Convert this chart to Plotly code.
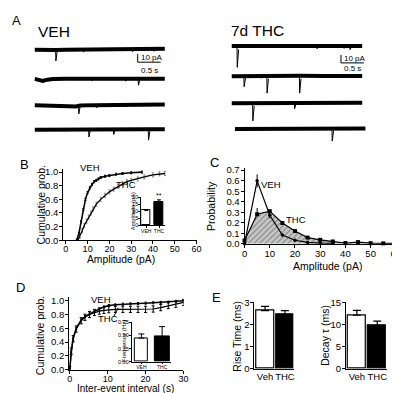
import plotly.graph_objects as go

W, H = 400, 393
FONT = 'Arial, "Liberation Sans", Helvetica, sans-serif'

# ---------------- data ----------------
# Panel A: sweeps -> baseline wobble (time s, pA) and events (time s, amplitude pA)
veh_base_t = [
    [0, 0.15, 0.3, 0.45, 0.7, 1.0, 1.3, 1.6, 1.9, 2.2, 2.5, 2.84],
    [0, 0.08, 0.18, 0.28, 0.4, 0.7, 1.0, 1.3, 1.6, 1.9, 2.2, 2.5, 2.84],
    [0, 0.3, 0.6, 0.75, 0.9, 1.0, 1.3, 1.6, 1.9, 2.2, 2.5, 2.84],
    [0, 0.4, 0.8, 1.2, 1.6, 2.0, 2.4, 2.84],
]
veh_base_v = [
    [0, -0.3, -0.8, -0.5, 0, 0.3, 0.5, 0.3, 0.6, 0.8, 1.0, 1.0],
    [0, -1.5, -2.5, -1.0, -0.3, 0, 0.3, 0.5, 0.2, 0, 0.2, -0.3, 0.2],
    [0, 0, -0.3, -1.2, -1.5, -0.3, 0.3, 0.5, 0.6, 0.8, 0.8, 1.0],
    [0, 0.3, 0, 0.4, 0.6, 0.4, 0.6, 0.4],
]
veh_evt_t = [[0.46, 1.06, 2.13, 2.6], [0.2, 1.25, 1.98, 2.26], [0.96, 1.35, 2.0], [0.68, 1.18, 1.72, 2.48]]
veh_evt_a = [[14, 3, 2.5, 2], [3, 2.5, 3, 8], [10.5, 3, 2], [2, 9, 6, 13]]

thc_base_t = [
    [0, 0.5, 1.0, 1.5, 2.0, 2.5, 2.85],
    [0, 0.5, 1.0, 1.5, 2.0, 2.5, 2.85],
    [0, 0.5, 1.0, 1.5, 2.0, 2.5, 2.85],
    [0, 0.5, 1.0, 1.5, 2.0, 2.5, 2.85],
]
thc_base_v = [
    [0.5, 0.5, 0.3, 0.5, 0.3, 0.5, 0.3],
    [0, 0.5, 0.3, 0.5, 0.3, 0.2, 0.3],
    [0, 0.2, 0, 0.5, 0.7, 0.5, 0.5],
    [0, 0.2, 0.3, 0.2, 0.5, 0.3, 0.5],
]
thc_evt_t = [[0.12, 1.86, 2.45, 2.58], [0.27, 0.64, 0.77, 1.48], [0.46, 0.9, 1.37], [0.5, 2.12]]
thc_evt_a = [[26, 3, 2.5, 4], [13, 2.5, 21, 21], [22, 2, 7], [2, 15]]

# Panel B: cumulative amplitude distributions
b_veh_x = [5, 6, 7, 8, 9, 10, 11, 12, 13, 14, 15, 16, 18, 20, 23, 26, 30, 35]
b_veh_y = [0, 0.1, 0.27, 0.45, 0.6, 0.7, 0.77, 0.82, 0.86, 0.88, 0.9, 0.92, 0.94, 0.95, 0.97, 0.98, 0.99, 1.0]
b_thc_x = [5.5, 6.5, 7.5, 8.5, 9.5, 10.5, 11.5, 12.5, 14, 16, 18, 20, 22, 24, 26, 28, 30, 33, 36, 40, 43, 45.5]
b_thc_y = [0, 0.06, 0.14, 0.22, 0.28, 0.34, 0.4, 0.46, 0.53, 0.6, 0.66, 0.71, 0.75, 0.79, 0.83, 0.86, 0.88, 0.9,
           0.93, 0.96, 0.975, 0.98]
groups = ["VEH", "THC"]
b_inset_mean = [10.5, 16.3]
b_inset_err = [0.5, 1.7]

# Panel C: amplitude histograms
c_x_veh = [0, 5, 10, 15, 20, 25, 30, 35]
c_veh = [0.0, 0.598, 0.27, 0.083, 0.033, 0.012, 0.006, 0.003]
c_veh_err = [0, 0.062, 0.03, 0.01, 0.005, 0, 0, 0]
c_x_thc = [0, 5, 10, 15, 20, 25, 30, 35, 40, 45, 50, 55, 60]
c_thc = [0.03, 0.28, 0.31, 0.197, 0.12, 0.058, 0.037, 0.021, 0.006, 0.015, 0.005, 0.003, 0.003]
c_thc_err = [0, 0.06, 0.01, 0.01, 0.01, 0.005, 0.004, 0, 0, 0, 0, 0, 0]

# Panel D: cumulative inter-event intervals
d_t = [0, 0.4, 0.9, 1.7, 3, 4, 5.2, 6.5, 7.8, 9, 10.3, 12, 14, 16, 18, 20, 22, 24, 26, 28, 30]
d_veh = [0, 0.27, 0.46, 0.6, 0.72, 0.77, 0.81, 0.85, 0.88, 0.91, 0.93, 0.94, 0.95, 0.955, 0.96, 0.965, 0.97,
         0.975, 0.98, 0.99, 1.0]
d_thc = [0, 0.27, 0.45, 0.59, 0.71, 0.76, 0.8, 0.83, 0.85, 0.86, 0.87, 0.875, 0.875, 0.875, 0.875, 0.875, 0.88,
         0.9, 0.93, 0.95, 0.975]
d_inset_mean = [0.45, 0.48]
d_inset_err = [0.08, 0.19]

# Panel E
e_groups = ["Veh", "THC"]
rise_mean = [2.63, 2.44]
rise_err = [0.19, 0.19]
decay_mean = [12.1, 9.75]
decay_err = [1.1, 1.0]

# ---------------- helpers ----------------
fig = go.Figure()
layout = {}
annotations = []
shapes = []


def axname(n):
    return ("xaxis", "yaxis") if n == 1 else (f"xaxis{n}", f"yaxis{n}")


def axref(n):
    return ("x", "y") if n == 1 else (f"x{n}", f"y{n}")


def dom_x(x0, x1):
    return [x0 / W, x1 / W]


def dom_y(ytop, ybot):
    return [1 - ybot / H, 1 - ytop / H]


def vis_axis(fs=9.5, tl=3, so=0, **kw):
    d = dict(showline=True, linecolor="black", linewidth=1, ticks="outside", ticklen=tl, tickwidth=1,
             tickcolor="black", showgrid=False, zeroline=False, tickangle=0, ticklabelstandoff=so,
             tickfont=dict(size=fs, color="black", family=FONT))
    d.update(kw)
    return d


def set_axes(n, xd, yd, xa, ya):
    xn, yn = axname(n)
    xr, yr = axref(n)
    layout[xn] = dict(xa, domain=xd, anchor=yr)
    layout[yn] = dict(ya, domain=yd, anchor=xr)


def text(px, py, s, size, angle=0, xanchor="center", yanchor="middle"):
    annotations.append(dict(x=px / W, y=1 - py / H, xref="paper", yref="paper", text=s, showarrow=False,
                            textangle=angle, xanchor=xanchor, yanchor=yanchor, borderpad=0,
                            font=dict(size=size, color="black", family=FONT)))


# ---------------- Panel A ----------------
PX_PER_S = 46.8
PX_PER_PA = 0.83
T_RANGE = [0, 3.0]
PA_RANGE = [-30, 5]
left_rows = [36.7, 66.7, 94, 119]
right_rows = [33.3, 64, 91.7, 118.3]
left_x0 = [24, 24, 24, 24]
right_x0 = [225, 225, 225, 228.3]

sweeps = []
for i in range(4):
    sweeps.append((left_x0[i], left_rows[i], veh_base_t[i], veh_base_v[i], veh_evt_t[i], veh_evt_a[i]))
for i in range(4):
    sweeps.append((right_x0[i], right_rows[i], thc_base_t[i], thc_base_v[i], thc_evt_t[i], thc_evt_a[i]))

hidden = dict(visible=False, showgrid=False, zeroline=False, fixedrange=True)
for k, (x0, row, bt, bv, et, ea) in enumerate(sweeps):
    n = k + 1
    xd = dom_x(x0, x0 + (T_RANGE[1] - T_RANGE[0]) * PX_PER_S)
    yd = dom_y(row - PA_RANGE[1] * PX_PER_PA, row - PA_RANGE[0] * PX_PER_PA)
    set_axes(n, xd, yd, dict(hidden, range=T_RANGE), dict(hidden, range=PA_RANGE))
    xr, yr = axref(n)
    fig.add_trace(go.Scatter(x=bt, y=bv, mode="lines", line=dict(color="black", width=4),
                             xaxis=xr, yaxis=yr, showlegend=False, hoverinfo="skip"))
    xs, ys = [], []
    for t, a in zip(et, ea):
        xs += [t, t + 0.006, t + 0.035, None]
        ys += [0, -a, -a * 0.15, None]
    fig.add_trace(go.Scatter(x=xs, y=ys, mode="lines", line=dict(color="black", width=1),
                             xaxis=xr, yaxis=yr, showlegend=False, hoverinfo="skip"))

# scale bars (10 pA, 0.5 s)
SB_T, SB_PA = 0.5, 10
for n, t0, ptop in [(1, 2.25, -5.5), (5, 2.387, -10.5)]:
    xr, yr = axref(n)
    shapes.append(dict(type="line", xref=xr, yref=yr, x0=t0, x1=t0, y0=ptop, y1=ptop - SB_PA,
                       line=dict(color="black", width=1)))
    shapes.append(dict(type="line", xref=xr, yref=yr, x0=t0, x1=t0 + SB_T, y0=ptop - SB_PA, y1=ptop - SB_PA,
                       line=dict(color="black", width=1)))
text(131.2, 44.5, "10 pA", 8, xanchor="left")
text(141.5, 58.5, "0.5 s", 8)
text(338.3, 46, "10 pA", 8, xanchor="left")
text(348.3, 56.5, "0.5 s", 8)

text(6, 7, "A", 13)
text(44, 18.3, "VEH", 15.5)
text(251.7, 16.7, "7d THC", 15.5)

# ---------------- Panel B ----------------
n = 9
set_axes(n, dom_x(53.3, 189.3), dom_y(159.2, 232.7),
         vis_axis(fs=9, so=-3, range=[-1.2, 60], tickvals=[0, 10, 20, 30, 40, 50, 60]),
         vis_axis(so=-1, range=[0, 1.05], tickvals=[0, 0.2, 0.4, 0.6, 0.8, 1.0], tickformat=".1f"))
xr, yr = axref(n)
fig.add_trace(go.Scatter(x=b_thc_x, y=b_thc_y, mode="lines", line=dict(color="black", width=1.3),
                         error_y=dict(type="constant", value=0.03, color="#8a8a8a", thickness=1, width=1),
                         xaxis=xr, yaxis=yr, showlegend=False, cliponaxis=False))
fig.add_trace(go.Scatter(x=b_veh_x, y=b_veh_y, mode="lines", line=dict(color="black", width=1.6),
                         error_y=dict(type="constant", value=0.015, color="black", thickness=1, width=1),
                         xaxis=xr, yaxis=yr, showlegend=False, cliponaxis=False))
text(14, 155, "B", 13)
text(80.8, 158.3, "VEH", 9.5)
text(117, 175, "THC", 9.5)
text(30.5, 196, "Cumulative prob.", 10.5, angle=-90)
text(112.5, 252.5, "Amplitude (pA)", 10.3)

# inset B
n = 10
set_axes(n, dom_x(133, 157), dom_y(188.3, 217.3),
         vis_axis(fs=5, tl=1.5, so=-1, range=[-0.385, 1.46], tickvals=[0, 1], ticktext=groups),
         vis_axis(fs=5.5, tl=2, so=-1, range=[0, 20], tickvals=[0, 5, 10, 15, 20]))
xr, yr = axref(n)
for i, col in enumerate(["white", "black"]):
    fig.add_trace(go.Bar(x=[i], y=[b_inset_mean[i]], width=0.7,
                         marker=dict(color=col, line=dict(color="black", width=1)),
                         error_y=dict(type="data", array=[b_inset_err[i]], arrayminus=[0], symmetric=False,
                                      color="black", thickness=1, width=2),
                         xaxis=xr, yaxis=yr, showlegend=False))
annotations.append(dict(x=1, y=b_inset_mean[1] + b_inset_err[1], xref=xr, yref=yr, text="**", showarrow=False,
                        yanchor="bottom", borderpad=0, font=dict(size=7, color="black", family=FONT)))
text(124.5, 203, "Amplitude (pA)", 5.8, angle=-90)

# ---------------- Panel C ----------------
n = 11
set_axes(n, dom_x(238.3, 392.7), dom_y(158.5, 236.3),
         vis_axis(so=-2, range=[0, 60], tickvals=[0, 10, 20, 30, 40, 50, 60]),
         vis_axis(so=-1, range=[0, 0.72], tickvals=[0, 0.1, 0.2, 0.3, 0.4, 0.5, 0.6, 0.7], tickformat=".1f"))
xr, yr = axref(n)
fig.add_trace(go.Scatter(x=c_x_thc, y=c_thc, mode="lines+markers", fill="tozeroy",
                         fillcolor="#c0c0c0",
                         fillpattern=dict(shape="/", fgcolor="#4a4a4a", bgcolor="#c8c8c8", size=4, solidity=0.3),
                         line=dict(color="black", width=1.2),
                         marker=dict(symbol="square", size=4, color="black"),
                         error_y=dict(type="data", array=c_thc_err, arrayminus=[0] * len(c_thc_err),
                                      symmetric=False, color="black", thickness=1, width=0),
                         xaxis=xr, yaxis=yr, showlegend=False, cliponaxis=False))
fig.add_trace(go.Scatter(x=c_x_veh, y=c_veh, mode="lines+markers",
                         line=dict(color="black", width=1.2),
                         marker=dict(symbol="circle", size=3.5, color="black"),
                         error_y=dict(type="data", array=c_veh_err, color="black", thickness=1, width=0),
                         xaxis=xr, yaxis=yr, showlegend=False, cliponaxis=False))
text(207.3, 152.7, "C", 13)
text(265.8, 175, "VEH", 9.5)
text(290.8, 211, "THC", 9.5)
text(204, 197.5, "Probability", 10.5, angle=-90)
text(322.5, 258.8, "Amplitude (pA)", 10.5)

# ---------------- Panel D ----------------
n = 12
set_axes(n, dom_x(59.3, 176), dom_y(291, 366),
         vis_axis(fs=9, so=-3, range=[-0.18, 30], tickvals=[0, 10, 20, 30]),
         vis_axis(so=-1, range=[0, 1.056], tickvals=[0, 0.2, 0.4, 0.6, 0.8, 1.0], tickformat=".1f"))
xr, yr = axref(n)
fig.add_trace(go.Scatter(x=d_t, y=d_thc, mode="lines", line=dict(color="black", width=1.2),
                         error_y=dict(type="constant", value=0.045, color="black", thickness=1, width=1.5),
                         xaxis=xr, yaxis=yr, showlegend=False, cliponaxis=False))
fig.add_trace(go.Scatter(x=d_t, y=d_veh, mode="lines", line=dict(color="black", width=1.5),
                         error_y=dict(type="constant", value=0.015, color="black", thickness=1, width=1),
                         xaxis=xr, yaxis=yr, showlegend=False, cliponaxis=False))
shapes.append(dict(type="line", xref=xr, yref=yr, x0=11.6, y0=0.77, x1=12.8, y1=0.9,
                   line=dict(color="black", width=1)))
text(10, 281, "D", 13)
text(91.7, 293.3, "VEH", 9.5)
text(99, 313.3, "THC", 9.5)
text(29, 331, "Cumulative prob.", 10.5, angle=-90)
text(116.7, 385, "Inter-event interval (s)", 10)

# inset D
n = 13
set_axes(n, dom_x(123.3, 163), dom_y(317.3, 357.7),
         vis_axis(fs=5, tl=1.5, so=-1, range=[-0.46, 1.415], tickvals=[0, 1], ticktext=groups),
         vis_axis(fs=5.5, tl=2, so=-1, range=[0, 0.75], tickvals=[0, 0.25, 0.5, 0.75], tickformat=".2f"))
xr, yr = axref(n)
for i, (col, wd) in enumerate([("white", 0.66), ("black", 0.71)]):
    fig.add_trace(go.Bar(x=[i], y=[d_inset_mean[i]], width=wd,
                         marker=dict(color=col, line=dict(color="black", width=1)),
                         error_y=dict(type="data", array=[d_inset_err[i]], arrayminus=[0], symmetric=False,
                                      color="black", thickness=1, width=3),
                         xaxis=xr, yaxis=yr, showlegend=False))
text(115, 336, "Frequency (Hz)", 6.2, angle=-90)

# ---------------- Panel E ----------------
for n, x0, x1, vals, errs, yrng, ticks, title, tx in [
    (14, 248.3, 289, rise_mean, rise_err, [0, 3], [0, 1, 2, 3], "Rise Time (ms)", 230.5),
    (15, 341.7, 383.5, decay_mean, decay_err, [0, 15], [0, 5, 10, 15], "Decay \u03c4 (ms)", 320.5),
]:
    set_axes(n, dom_x(x0, x1), dom_y(296.7, 365),
             vis_axis(fs=9.5, so=-1, range=[-0.54, 1.47], tickvals=[0, 1], ticktext=e_groups, ticks=""),
             vis_axis(so=-1, range=yrng, tickvals=ticks))
    xr, yr = axref(n)
    for i, col in enumerate(["white", "black"]):
        fig.add_trace(go.Bar(x=[i], y=[vals[i]], width=0.89,
                             marker=dict(color=col, line=dict(color="black", width=1.2)),
                             error_y=dict(type="data", array=[errs[i]], arrayminus=[0], symmetric=False,
                                          color="black", thickness=1.2, width=4),
                             xaxis=xr, yaxis=yr, showlegend=False))
    text(tx, 331, title, 10.5, angle=-90)
text(210, 291.7, "E", 13)

layout.update(dict(width=W, height=H, margin=dict(l=0, r=0, t=0, b=0), paper_bgcolor="white",
                   plot_bgcolor="white", showlegend=False, annotations=annotations, shapes=shapes,
                   font=dict(family=FONT, color="black"), bargap=0))
fig.update_layout(**layout)
fig.write_html("out.html")
